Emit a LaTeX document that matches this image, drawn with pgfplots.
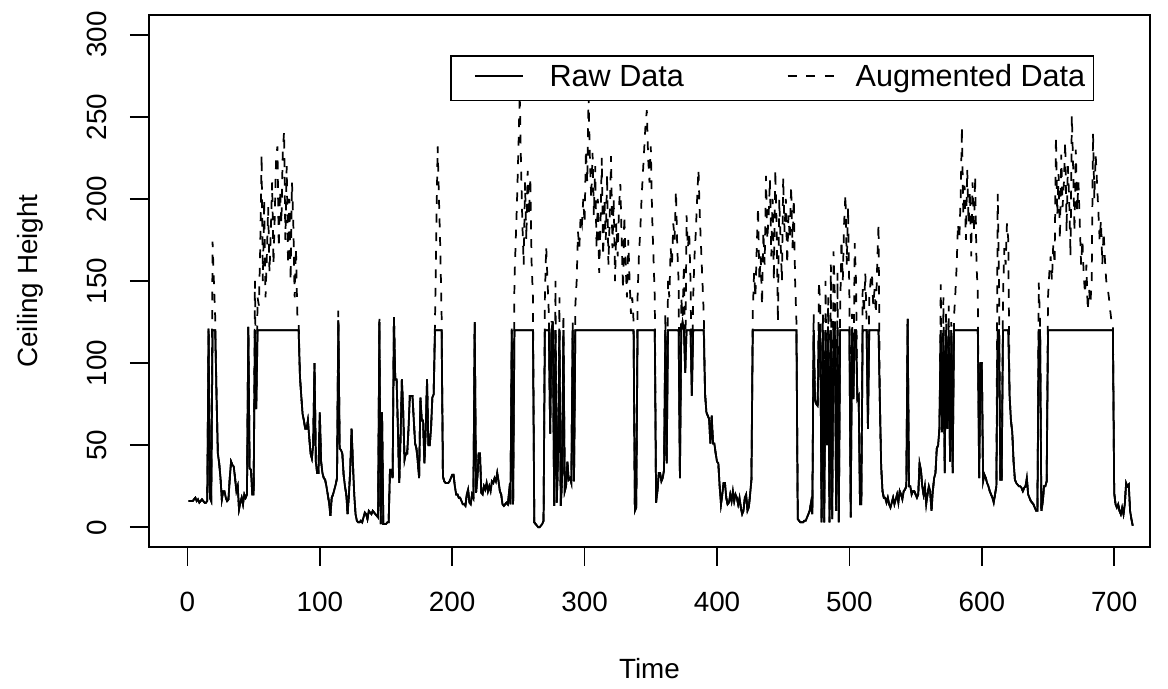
\documentclass[border=0pt]{standalone}
\usepackage{fontspec}
\setmainfont{Liberation Sans}
\usepackage{pgfplots}
\pgfplotsset{compat=1.18}
\usepackage{pgfplotstable}

\pgfplotsset{
  rawimg/.style={legend image code/.code={\path[draw=none] (0pt,0pt) -- (38.8pt,0pt);
    \draw[##1] (6.5pt,4.2pt) -- (27.2pt,4.2pt);}},
  augimg/.style={legend image code/.code={\path[draw=none] (0pt,0pt) -- (45.7pt,0pt);
    \draw[##1] (16.4pt,4.2pt) -- (37.5pt,4.2pt);}},
}

% x = time, r = raw ceiling height (censored at 120), a = augmented
\pgfplotstableread[row sep=\\]{
x r a\\
1 16 16\\ 2 16 16\\ 3 16 16\\ 4 16 16\\ 5 17 17\\ 6 18 18\\ 7 16 16\\ 8 17 17\\ 9 15 15\\ 10 16 16\\
11 17 17\\ 12 16 16\\ 13 15 15\\ 14 15 15\\ 15 16 16\\ 16 121 121\\ 17 18 18\\ 18 16 16\\ 19 120 174\\ 20 120 150\\
21 120 128\\ 22 80 80\\ 23 45 45\\ 24 39 39\\ 25 30 30\\ 26 17 17\\ 27 22 22\\ 28 22 22\\ 29 18 18\\ 30 16 16\\
31 17 17\\ 32 30 30\\ 33 40 40\\ 34 38 38\\ 35 37 37\\ 36 30 30\\ 37 22 22\\ 38 25 25\\ 39 11 11\\ 40 15 15\\
41 18 18\\ 42 14 14\\ 43 20 20\\ 44 18 18\\ 45 20 20\\ 46 122 122\\ 47 36 36\\ 48 35 35\\ 49 20 20\\ 50 20 20\\
51 120 150\\ 52 72 72\\ 53 120 140\\ 54 120 135\\ 55 120 170\\ 56 120 227\\ 57 120 150\\ 58 120 200\\ 59 120 140\\ 60 120 165\\
61 120 195\\ 62 120 155\\ 63 120 180\\ 64 120 210\\ 65 120 160\\ 66 120 190\\ 67 120 225\\ 68 120 232\\ 69 120 170\\ 70 120 205\\
71 120 185\\ 72 120 228\\ 73 120 241\\ 74 120 175\\ 75 120 220\\ 76 120 160\\ 77 120 200\\ 78 120 150\\ 79 120 210\\ 80 120 185\\
81 120 140\\ 82 120 170\\ 83 120 130\\ 84 120 125\\ 85 92 92\\ 86 80 80\\ 87 69 69\\ 88 65 65\\ 89 60 60\\ 90 60 60\\
91 65 65\\ 92 55 55\\ 93 45 45\\ 94 42 42\\ 95 50 50\\ 96 100 100\\ 97 40 40\\ 98 33 33\\ 99 33 33\\ 100 70 70\\
101 40 40\\ 102 33 33\\ 103 30 30\\ 104 29 29\\ 105 25 25\\ 106 20 20\\ 107 15 15\\ 108 7 7\\ 109 18 18\\ 110 20 20\\
111 23 23\\ 112 26 26\\ 113 30 30\\ 114 126 132\\ 115 48 48\\ 116 47 47\\ 117 45 45\\ 118 32 32\\ 119 25 25\\ 120 20 20\\
121 8 8\\ 122 20 20\\ 123 35 35\\ 124 60 60\\ 125 39 39\\ 126 20 20\\ 127 8 8\\ 128 4 4\\ 129 3 3\\ 130 3 3\\
131 4 4\\ 132 3 3\\ 133 6 6\\ 134 9 9\\ 135 8 8\\ 136 5 5\\ 137 10 10\\ 138 9 9\\ 139 8 8\\ 140 10 10\\
141 9 9\\ 142 8 8\\ 143 7 7\\ 144 6 6\\ 145 125 127\\ 146 2 2\\ 147 70 70\\ 148 2 2\\ 149 2 2\\ 150 2 2\\
151 3 3\\ 152 3 3\\ 153 35 35\\ 154 35 35\\ 155 30 30\\ 156 128 128\\ 157 90 90\\ 158 90 90\\ 159 60 60\\ 160 27 27\\
161 55 55\\ 162 90 90\\ 163 70 70\\ 164 41 41\\ 165 45 45\\ 166 45 45\\ 167 60 60\\ 168 80 80\\ 169 80 80\\ 170 80 80\\
171 65 65\\ 172 51 51\\ 173 48 48\\ 174 40 40\\ 175 30 30\\ 176 79 79\\ 177 65 65\\ 178 65 65\\ 179 39 39\\ 180 60 60\\
181 90 90\\ 182 50 50\\ 183 50 50\\ 184 60 60\\ 185 79 79\\ 186 81 81\\ 187 120 125\\ 188 120 180\\ 189 120 232\\ 190 120 200\\
191 120 170\\ 192 120 130\\ 193 31 31\\ 194 28 28\\ 195 27 27\\ 196 27 27\\ 197 27 27\\ 198 28 28\\ 199 30 30\\ 200 32 32\\
201 32 32\\ 202 25 25\\ 203 20 20\\ 204 20 20\\ 205 18 18\\ 206 18 18\\ 207 16 16\\ 208 14 14\\ 209 14 14\\ 210 13 13\\
211 20 20\\ 212 23 23\\ 213 15 15\\ 214 14 14\\ 215 20 20\\ 216 18 18\\ 217 125 125\\ 218 21 21\\ 219 30 30\\ 220 45 45\\
221 45 45\\ 222 21 21\\ 223 20 20\\ 224 25 25\\ 225 23 23\\ 226 27 27\\ 227 22 22\\ 228 25 25\\ 229 22 22\\ 230 28 28\\
231 27 27\\ 232 30 30\\ 233 28 28\\ 234 33 33\\ 235 28 28\\ 236 22 22\\ 237 20 20\\ 238 14 14\\ 239 13 13\\ 240 14 14\\
241 15 15\\ 242 14 14\\ 243 22 22\\ 244 14 14\\ 245 120 121\\ 246 14 14\\ 247 120 150\\ 248 120 175\\ 249 120 200\\ 250 120 230\\
251 120 264\\ 252 120 220\\ 253 120 185\\ 254 120 160\\ 255 120 210\\ 256 120 175\\ 257 120 217\\ 258 120 190\\ 259 120 213\\ 260 120 160\\
261 120 140\\ 262 3 3\\ 263 2 2\\ 264 1 1\\ 265 0 0\\ 266 0 0\\ 267 1 1\\ 268 2 2\\ 269 4 4\\ 270 120 140\\
271 120 171\\ 272 120 150\\ 273 120 130\\ 274 57 57\\ 275 120 125\\ 276 125 125\\ 277 13 13\\ 278 120 150\\ 279 15 15\\ 280 45 45\\
281 120 140\\ 282 13 13\\ 283 30 30\\ 284 120 130\\ 285 22 22\\ 286 25 25\\ 287 40 40\\ 288 29 29\\ 289 30 30\\ 290 27 27\\
291 120 125\\ 292 28 28\\ 293 120 135\\ 294 120 150\\ 295 120 180\\ 296 120 170\\ 297 120 190\\ 298 120 185\\ 299 120 200\\ 300 120 185\\
301 120 230\\ 302 120 210\\ 303 120 262\\ 304 120 225\\ 305 120 200\\ 306 120 228\\ 307 120 190\\ 308 120 220\\ 309 120 170\\ 310 120 200\\
311 120 155\\ 312 120 185\\ 313 120 225\\ 314 120 165\\ 315 120 200\\ 316 120 175\\ 317 120 215\\ 318 120 160\\ 319 120 190\\ 320 120 226\\
321 120 170\\ 322 120 200\\ 323 120 150\\ 324 120 185\\ 325 120 165\\ 326 120 195\\ 327 120 209\\ 328 120 175\\ 329 120 145\\ 330 120 190\\
331 120 160\\ 332 120 140\\ 333 120 175\\ 334 120 150\\ 335 120 130\\ 336 120 140\\ 337 120 125\\ 338 10 10\\ 339 12 12\\ 340 120 140\\
341 120 165\\ 342 120 180\\ 343 120 200\\ 344 120 215\\ 345 120 230\\ 346 120 245\\ 347 120 254\\ 348 120 225\\ 349 120 210\\ 350 120 232\\
351 120 190\\ 352 120 165\\ 353 120 140\\ 354 15 15\\ 355 22 22\\ 356 33 33\\ 357 33 33\\ 358 28 28\\ 359 30 30\\ 360 35 35\\
361 120 130\\ 362 39 39\\ 363 120 150\\ 364 120 140\\ 365 120 170\\ 366 120 160\\ 367 120 185\\ 368 120 175\\ 369 120 205\\ 370 120 170\\
371 120 150\\ 372 30 30\\ 373 120 140\\ 374 125 128\\ 375 120 160\\ 376 94 94\\ 377 120 190\\ 378 120 170\\ 379 120 180\\ 380 120 150\\
381 80 80\\ 382 120 140\\ 383 120 165\\ 384 120 180\\ 385 120 200\\ 386 120 218\\ 387 120 190\\ 388 120 170\\ 389 120 150\\ 390 120 130\\
391 81 81\\ 392 70 70\\ 393 68 68\\ 394 66 66\\ 395 51 51\\ 396 68 68\\ 397 51 51\\ 398 51 51\\ 399 45 45\\ 400 40 40\\
401 39 39\\ 402 25 25\\ 403 14 14\\ 404 20 20\\ 405 27 27\\ 406 27 27\\ 407 18 18\\ 408 14 14\\ 409 15 15\\ 410 20 20\\
411 16 16\\ 412 22 22\\ 413 16 16\\ 414 20 20\\ 415 18 18\\ 416 14 14\\ 417 18 18\\ 418 12 12\\ 419 8 8\\ 420 10 10\\
421 18 18\\ 422 20 20\\ 423 10 10\\ 424 12 12\\ 425 20 20\\ 426 29 29\\ 427 120 130\\ 428 120 155\\ 429 120 140\\ 430 120 170\\
431 120 195\\ 432 120 150\\ 433 120 165\\ 434 120 135\\ 435 120 180\\ 436 120 160\\ 437 120 214\\ 438 120 175\\ 439 120 190\\ 440 120 212\\
441 120 165\\ 442 120 200\\ 443 120 150\\ 444 120 218\\ 445 120 185\\ 446 120 125\\ 447 120 200\\ 448 120 175\\ 449 120 150\\ 450 120 213\\
451 120 180\\ 452 120 200\\ 453 120 160\\ 454 120 190\\ 455 120 175\\ 456 120 208\\ 457 120 170\\ 458 120 200\\ 459 120 150\\ 460 120 125\\
461 5 5\\ 462 4 4\\ 463 3 3\\ 464 3 3\\ 465 3 3\\ 466 4 4\\ 467 4 4\\ 468 6 6\\ 469 8 8\\ 470 10 10\\
471 15 15\\ 472 8 8\\ 473 120 130\\ 474 78 78\\ 475 75 75\\ 476 74 74\\ 477 120 150\\ 478 120 135\\ 479 3 3\\ 480 120 130\\
481 3 3\\ 482 120 150\\ 483 50 50\\ 484 120 140\\ 485 3 3\\ 486 120 160\\ 487 5 5\\ 488 120 168\\ 489 120 140\\ 490 10 10\\
491 120 155\\ 492 3 3\\ 493 120 130\\ 494 120 175\\ 495 120 150\\ 496 120 185\\ 497 120 203\\ 498 120 160\\ 499 120 195\\ 500 120 140\\
501 6 6\\ 502 120 130\\ 503 78 78\\ 504 120 173\\ 505 120 150\\ 506 78 78\\ 507 80 80\\ 508 14 14\\ 509 14 14\\ 510 120 145\\
511 120 130\\ 512 120 155\\ 513 120 125\\ 514 60 60\\ 515 120 140\\ 516 120 150\\ 517 120 155\\ 518 120 135\\ 519 120 145\\ 520 120 130\\
521 120 160\\ 522 120 185\\ 523 77 77\\ 524 37 37\\ 525 22 22\\ 526 18 18\\ 527 18 18\\ 528 15 15\\ 529 18 18\\ 530 14 14\\
531 12 12\\ 532 15 15\\ 533 18 18\\ 534 14 14\\ 535 17 17\\ 536 20 20\\ 537 15 15\\ 538 22 22\\ 539 20 20\\ 540 17 17\\
541 22 22\\ 542 23 23\\ 543 25 25\\ 544 127 127\\ 545 25 25\\ 546 25 25\\ 547 20 20\\ 548 22 22\\ 549 22 22\\ 550 20 20\\
551 18 18\\ 552 20 20\\ 553 39 39\\ 554 35 35\\ 555 25 25\\ 556 20 20\\ 557 25 25\\ 558 14 14\\ 559 20 20\\ 560 25 25\\
561 22 22\\ 562 10 10\\ 563 22 22\\ 564 30 30\\ 565 33 33\\ 566 48 48\\ 567 50 50\\ 568 60 60\\ 569 120 148\\ 570 58 58\\
571 120 140\\ 572 33 33\\ 573 120 130\\ 574 60 60\\ 575 120 135\\ 576 40 40\\ 577 120 125\\ 578 33 33\\ 579 120 128\\ 580 120 142\\
581 120 159\\ 582 120 185\\ 583 120 175\\ 584 120 200\\ 585 120 244\\ 586 120 190\\ 587 120 208\\ 588 120 175\\ 589 120 218\\ 590 120 185\\
591 120 205\\ 592 120 165\\ 593 120 210\\ 594 120 180\\ 595 120 214\\ 596 120 160\\ 597 120 142\\ 598 30 30\\ 599 100 100\\ 600 100 100\\
601 28 28\\ 602 32 32\\ 603 30 30\\ 604 27 27\\ 605 25 25\\ 606 22 22\\ 607 20 20\\ 608 18 18\\ 609 15 15\\ 610 20 20\\
611 25 25\\ 612 120 203\\ 613 120 150\\ 614 29 29\\ 615 29 29\\ 616 120 140\\ 617 120 170\\ 618 120 160\\ 619 120 185\\ 620 120 175\\
621 80 80\\ 622 65 65\\ 623 58 58\\ 624 40 40\\ 625 29 29\\ 626 27 27\\ 627 26 26\\ 628 25 25\\ 629 25 25\\ 630 24 24\\
631 22 22\\ 632 24 24\\ 633 25 25\\ 634 30 30\\ 635 20 20\\ 636 18 18\\ 637 16 16\\ 638 15 15\\ 639 14 14\\ 640 12 12\\
641 10 10\\ 642 10 10\\ 643 120 149\\ 644 120 125\\ 645 10 10\\ 646 15 15\\ 647 25 25\\ 648 25 25\\ 649 28 28\\ 650 120 140\\
651 120 155\\ 652 120 165\\ 653 120 150\\ 654 120 173\\ 655 120 160\\ 656 120 238\\ 657 120 190\\ 658 120 215\\ 659 120 175\\ 660 120 227\\
661 120 195\\ 662 120 210\\ 663 120 235\\ 664 120 180\\ 665 120 220\\ 666 120 200\\ 667 120 165\\ 668 120 251\\ 669 120 219\\ 670 120 180\\
671 120 230\\ 672 120 193\\ 673 120 210\\ 674 120 185\\ 675 120 160\\ 676 120 175\\ 677 120 153\\ 678 120 142\\ 679 120 160\\ 680 120 132\\
681 120 145\\ 682 120 136\\ 683 120 150\\ 684 120 240\\ 685 120 200\\ 686 120 227\\ 687 120 210\\ 688 120 193\\ 689 120 175\\ 690 120 187\\
691 120 160\\ 692 120 180\\ 693 120 163\\ 694 120 150\\ 695 120 146\\ 696 120 140\\ 697 120 132\\ 698 120 125\\ 699 120 125\\ 700 21 21\\
701 14 14\\ 702 12 12\\ 703 14 14\\ 704 10 10\\ 705 8 8\\ 706 12 12\\ 707 8 8\\ 708 14 14\\ 709 27 27\\ 710 25 25\\
711 26 26\\ 712 10 10\\ 713 5 5\\ 714 1 1\\
}\ceiling

\begin{document}
\begin{tikzpicture}[font=\fontsize{12}{14}\selectfont]
\useasboundingbox (0,0) rectangle (503.87pt,297.23pt);
\begin{axis}[
  at={(64.28pt,61.26pt)}, anchor=south west,
  width=431.8pt, height=229.5pt, scale only axis,
  xmin=-29, xmax=727, ymin=-12, ymax=312,
  clip=false,
  axis line style={line width=0.75pt, black},
  tick style={line width=0.75pt, black},
  tick align=outside, tick pos=left, major tick length=8.2pt,
  xtick={0,100,...,700}, ytick={0,50,...,300},
  xticklabels={}, yticklabels={},
  every axis x label/.style={at={(axis description cs:0.5,0)}, anchor=center, yshift=-52.6pt},
  every axis y label/.style={at={(axis description cs:0,0.5)}, anchor=center, xshift=-51.3pt, rotate=90},
  xlabel={Time}, ylabel={Ceiling Height},
  legend columns=2,
  legend style={at={(axis description cs:0.3012,0.9248)}, anchor=north west,
    draw=black, fill=white, line width=0.75pt, inner xsep=3.6pt, inner ysep=3.5pt,
    font=\fontsize{13.2}{15}\selectfont,
    nodes={inner sep=0pt, text height=9.5pt, text depth=2.8pt, anchor=base},
    /tikz/every odd column/.append style={column sep=0pt}},
]
\addplot[black, line width=0.75pt, rawimg] table[x=x, y=r] {\ceiling};
\addlegendentry{\makebox[86.3pt][l]{Raw Data}}
\addplot[black, line width=0.75pt, dash pattern=on 3.8pt off 4.2pt, augimg]
  table[x=x, y=a] {\ceiling};
\addlegendentry{Augmented Data}
\addplot[black, line width=0.75pt, forget plot] table[x=x, y=r] {\ceiling};
% tick labels set R-style
\pgfplotsinvokeforeach{0,100,200,300,400,500,600,700}{
  \node[anchor=center] at ([yshift=-23.7pt]axis cs:#1,-12) {#1};}
\pgfplotsinvokeforeach{0,50,100,150,200,250,300}{
  \node[rotate=90, anchor=center] at ([xshift=-22.6pt]axis cs:-29,#1) {#1};}
\end{axis}
\end{tikzpicture}
\end{document}
